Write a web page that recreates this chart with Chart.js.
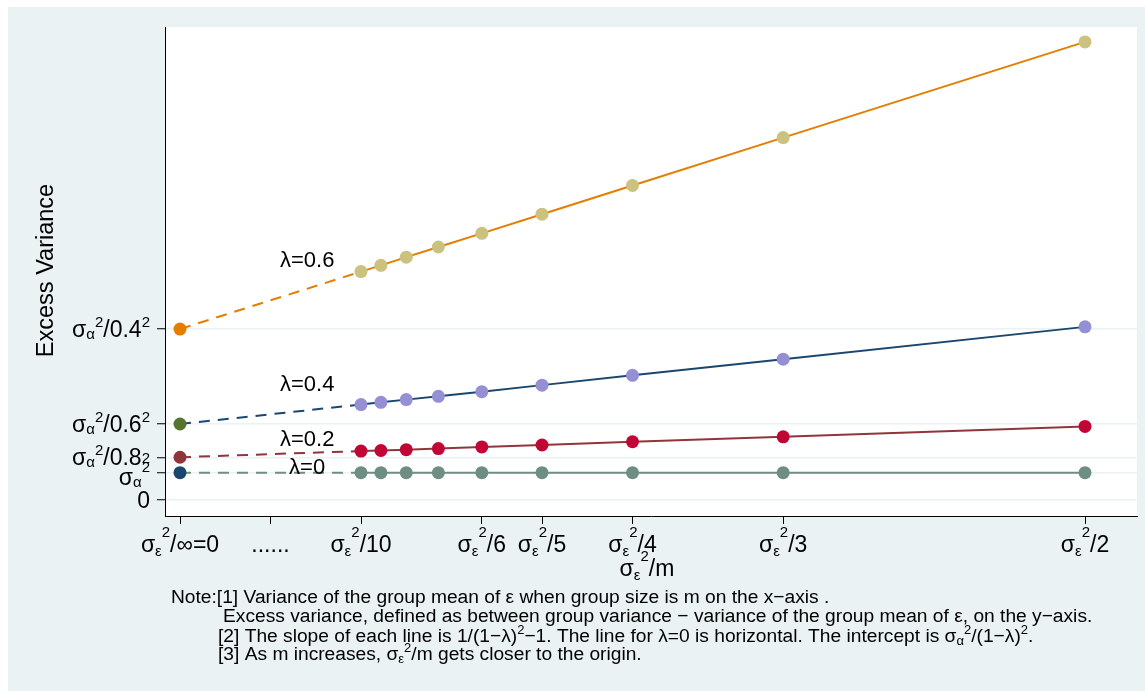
<!DOCTYPE html>
<html><head><meta charset="utf-8">
<script src="https://cdn.jsdelivr.net/npm/chart.js@4.4.1/dist/chart.umd.min.js"></script>
<style>html,body{margin:0;padding:0;background:#fff;overflow:hidden}
#wrap{width:1145px;height:691px;position:relative}</style>
</head><body><div id="wrap"><canvas id="c" width="1145" height="691"></canvas></div>
<script>
// ---------- data ----------
const lambdaLabels = ['λ=0', 'λ=0.2', 'λ=0.4', 'λ=0.6'];
// x = sigma_eps^2 / m  for m = 10,9,8,7,6,5,4,3,2 (sigma_eps^2 read as 4)
const xValues = [0.4, 0.444, 0.5, 0.571, 0.667, 0.8, 1.0, 1.333, 2.0];
const interceptX = [0, 0, 0, 0];
const intercepts = [1, 1.5625, 2.778, 6.25];
const yLam0  = [1, 1, 1, 1, 1, 1, 1, 1, 1];
const yLam02 = [1.79, 1.81, 1.84, 1.88, 1.94, 2.01, 2.13, 2.31, 2.69];
const yLam04 = [3.49, 3.57, 3.67, 3.79, 3.96, 4.20, 4.56, 5.15, 6.33];
const yLam06 = [8.35, 8.58, 8.88, 9.25, 9.75, 10.45, 11.50, 13.25, 16.75];
const xTickValues = [0, 0.2, 0.4, 0.667, 0.8, 1, 1.333, 2];
const xTickLabels = ['σ_ε^2/∞=0', '......', 'σ_ε^2/10', 'σ_ε^2/6', 'σ_ε^2/5', 'σ_ε^2/4', 'σ_ε^2/3', 'σ_ε^2/2'];
const yTickValues = [0, 1, 1.5625, 2.778, 6.25];
const yTickLabels = ['0', 'σ_α^2', 'σ_α^2/0.8^2', 'σ_α^2/0.6^2', 'σ_α^2/0.4^2'];
const xTitle = 'σ_ε^2/m';
const yTitle = 'Excess Variance';
const noteLines = [
  'Note:[1] Variance of the group mean of ε when group size is m on the x−axis .',
  'Excess variance, defined as between group variance − variance of the group mean of ε, on the y−axis.',
  '[2] The slope of each line is 1/(1−λ)^2−1. The line for λ=0 is horizontal. The intercept is σ_α^2/(1−λ)^2.',
  '[3] As m increases, σ_ε^2/m gets closer to the origin.'
];
const seriesY = [yLam0, yLam02, yLam04, yLam06];

// ---------- styles ----------
const FONT = '"Liberation Sans", Arial, Helvetica, sans-serif';
const lineColors = ['#6E8E84', '#90353B', '#1A476F', '#E37E00'];
const pointColors = ['#6E8E84', '#C10534', '#958FD4', '#CAC27E'];
const interceptColors = ['#1A476F', '#90353B', '#55752F', '#E37E00'];
const lambdaLabelAnchor = [{x: 0.281, y: 1.19}, {x: 0.281, y: 2.19}, {x: 0.281, y: 4.19}, {x: 0.281, y: 8.73}];

const datasets = [];
for (let i = 0; i < 4; i++) {
  datasets.push({ // dashed extension to the intercept
    data: [{x: interceptX[i], y: intercepts[i]}, {x: xValues[0], y: seriesY[i][0]}],
    borderColor: lineColors[i], borderWidth: 2, borderDash: [11, 8],
    pointRadius: 0, order: 3
  });
  datasets.push({ // solid line + markers
    data: xValues.map((x, k) => ({x, y: seriesY[i][k]})),
    borderColor: lineColors[i], borderWidth: 2,
    pointRadius: 6.5, pointBackgroundColor: pointColors[i], pointBorderWidth: 0,
    pointHoverRadius: 6.5, order: 2
  });
  datasets.push({ // intercept marker
    data: [{x: interceptX[i], y: intercepts[i]}],
    showLine: false, pointRadius: 6.5, pointBackgroundColor: interceptColors[i],
    pointBorderWidth: 0, borderColor: interceptColors[i], order: 1
  });
}

function parseRich(str) {
  const parts = [];
  for (let i = 0; i < str.length; i++) {
    const c = str[i];
    if ((c === '_' || c === '^') && i + 1 < str.length) { parts.push({t: str[i + 1], k: c}); i++; }
    else if (parts.length && parts[parts.length - 1].k === 'n') parts[parts.length - 1].t += c;
    else parts.push({t: c, k: 'n'});
  }
  return parts;
}
function drawRich(ctx, str, x, y, align, st) {
  const parts = parseRich(str);
  let w = 0;
  parts.forEach(p => {
    ctx.font = (p.k === 'n' ? st.size : st.small) + 'px ' + FONT;
    p.w = ctx.measureText(p.t).width; w += p.w;
  });
  let cx = align === 'right' ? x - w : align === 'center' ? x - w / 2 : x;
  ctx.textAlign = 'left'; ctx.textBaseline = 'alphabetic';
  parts.forEach((p, idx) => {
    ctx.font = (p.k === 'n' ? st.size : st.small) + 'px ' + FONT;
    let dy = 0;
    if (p.k === '_') dy = st.subDrop;
    if (p.k === '^') dy = -((idx === parts.length - 1 && st.lastSup != null) ? st.lastSup : st.supRaise);
    ctx.fillText(p.t, cx, y + dy);
    cx += p.w;
  });
}

const decor = {
  id: 'decor',
  beforeDraw(chart) {
    const ctx = chart.ctx, a = chart.chartArea;
    ctx.save();
    ctx.fillStyle = '#ffffff'; ctx.fillRect(0, 0, chart.width, chart.height);
    ctx.fillStyle = '#EAF2F3'; ctx.fillRect(8, 7, chart.width - 8, chart.height - 7);
    ctx.fillStyle = '#ffffff'; ctx.fillRect(a.left, a.top, a.right - a.left, a.bottom - a.top);
    ctx.restore();
  },
  afterDraw(chart) {
    const ctx = chart.ctx, xs = chart.scales.x, ys = chart.scales.y, a = chart.chartArea;
    ctx.save();
    ctx.fillStyle = '#000';
    // y tick labels
    yTickValues.forEach((v, i) => {
      const py = ys.getPixelForValue(v);
      const st = {size: 23, small: 15, supRaise: 10, subDrop: 2};
      let base = py + 8;
      if (i === 1) { base = py + 12; st.supRaise = 13; }
      if (i === 2) st.lastSup = 2;
      drawRich(ctx, yTickLabels[i], a.left - 15, base, 'right', st);
    });
    // x tick labels
    xTickValues.forEach((v, i) => {
      const px = xs.getPixelForValue(v);
      drawRich(ctx, xTickLabels[i], px, a.bottom + 36, 'center', {size: 23, small: 15, supRaise: 15, subDrop: 4});
    });
    // axis titles
    drawRich(ctx, xTitle, (a.left + a.right) / 2 - 4, a.bottom + 60, 'center', {size: 23, small: 15, supRaise: 15, subDrop: 4});
    ctx.save();
    ctx.translate(53, (a.top + a.bottom) / 2 - 1);
    ctx.rotate(-Math.PI / 2);
    ctx.font = '23.5px ' + FONT; ctx.textAlign = 'center'; ctx.textBaseline = 'alphabetic';
    ctx.fillText(yTitle, 0, 0);
    ctx.restore();
    // lambda labels
    lambdaLabels.forEach((t, i) => {
      ctx.font = '22px ' + FONT; ctx.textAlign = 'center'; ctx.textBaseline = 'middle';
      ctx.fillText(t, xs.getPixelForValue(lambdaLabelAnchor[i].x), ys.getPixelForValue(lambdaLabelAnchor[i].y));
    });
    // notes
    const nx = [171, 223, 218, 218], ny = [603, 622, 642, 660];
    noteLines.forEach((t, i) => drawRich(ctx, t, nx[i], ny[i], 'left', {size: 19.2, small: 13, supRaise: 8, subDrop: 3}));
    ctx.restore();
  }
};

new Chart(document.getElementById('c'), {
  type: 'line',
  data: {datasets},
  plugins: [decor],
  options: {
    responsive: false, animation: false, devicePixelRatio: 1,
    layout: {padding: {left: 0, right: 8, top: 27, bottom: 135}},
    plugins: {legend: {display: false}, tooltip: {enabled: false}, title: {display: false}},
    events: [],
    scales: {
      x: {
        type: 'linear', min: -0.03315, max: 2.1149,
        afterBuildTicks: s => { s.ticks = xTickValues.map(v => ({value: v})); },
        afterFit: s => { s.height = 40; },
        ticks: {display: false},
        grid: {drawOnChartArea: false, drawTicks: true, tickLength: 8, tickColor: '#000', tickWidth: 1},
        border: {display: true, color: '#000', width: 1}
      },
      y: {
        type: 'linear', min: -0.585, max: 17.294,
        afterBuildTicks: s => { s.ticks = yTickValues.map(v => ({value: v})); },
        afterFit: s => { s.width = 165; },
        ticks: {display: false},
        grid: {color: '#EAF2F3', lineWidth: 1.5, drawTicks: true, tickLength: 8, tickColor: '#000', tickWidth: 1},
        border: {display: true, color: '#000', width: 1}
      }
    }
  }
});
</script></body></html>
